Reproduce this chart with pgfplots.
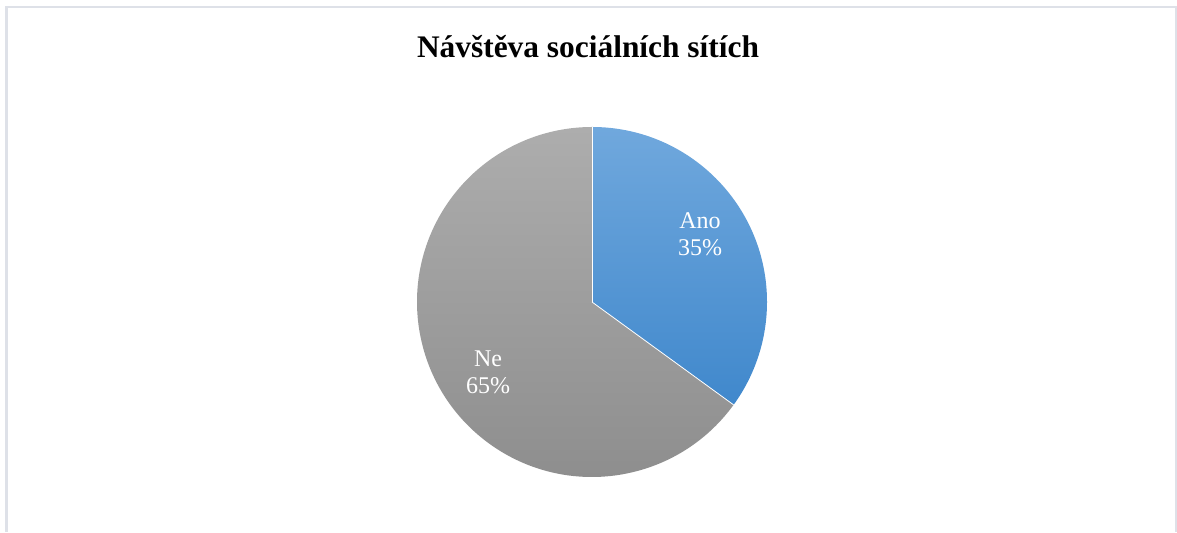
\documentclass[border=0pt]{standalone}
\usepackage{pgfplots}
\usepackage{pgfplotstable}
\pgfplotsset{compat=1.18}
\usepackage{fontspec}
\setmainfont{Liberation Serif}
\definecolor{anotop}{RGB}{112,168,221}
\definecolor{anobot}{RGB}{64,136,204}
\definecolor{netop}{RGB}{173,173,173}
\definecolor{nebot}{RGB}{140,140,140}
\definecolor{framec}{RGB}{222,225,232}
\pgfplotstableread{
label value
Ano 35
Ne 65
}\piedata
\begin{document}
\begin{tikzpicture}
\pgfkeys{/pgf/number format/assume math mode=true}
\pgfplotstablegetelem{0}{value}\of\piedata
\pgfmathsetmacro\valA{\pgfplotsretval}
\pgfplotstablegetelem{1}{value}\of\piedata
\pgfmathsetmacro\valB{\pgfplotsretval}
\pgfmathsetmacro\aStart{90}
\pgfmathsetmacro\aEnd{90-3.6*\valA}
\pgfmathsetmacro\bEnd{\aEnd-3.6*\valB}
\pgfmathsetmacro\rpt{87.5}
\begin{axis}[
  scale only axis, width=588.5pt, height=266pt,
  xmin=0, xmax=1177, ymin=0, ymax=532,
  hide axis, clip=false,
  /pgf/number format/assume math mode=true]
  \path (rel axis cs:0,0) rectangle (rel axis cs:1,1);
  % frame
  \draw[framec, line width=1pt] (axis cs:6.5,0) -- (axis cs:6.5,525) -- (axis cs:1175.5,525) -- (axis cs:1175.5,0);
  % slices
  \shade[top color=netop, bottom color=nebot]
    (axis cs:592,230) -- ++(\aEnd:\rpt pt) arc[start angle=\aEnd, end angle=\bEnd, radius=\rpt pt] -- cycle;
  \shade[top color=anotop, bottom color=anobot]
    (axis cs:592,230) -- ++(\aStart:\rpt pt) arc[start angle=\aStart, end angle=\aEnd, radius=\rpt pt] -- cycle;
  \draw[white, line width=0.4pt] (axis cs:592,230) -- ++(\aStart:\rpt pt);
  \draw[white, line width=0.4pt] (axis cs:592,230) -- ++(\aEnd:\rpt pt);
  % labels
  \node[white, font=\fontsize{12}{13.5}\selectfont, align=center] at (axis cs:700,298) {Ano\\\pgfmathprintnumber[assume math mode=true]{\valA}\%};
  \node[white, font=\fontsize{12}{13.5}\selectfont, align=center] at (axis cs:488,160) {Ne\\\pgfmathprintnumber[assume math mode=true]{\valB}\%};
  % title
  \node[font=\fontsize{15.7}{18}\selectfont\bfseries] at (axis cs:588,485) {Návštěva sociálních sítích};
\end{axis}
\end{tikzpicture}
\end{document}
